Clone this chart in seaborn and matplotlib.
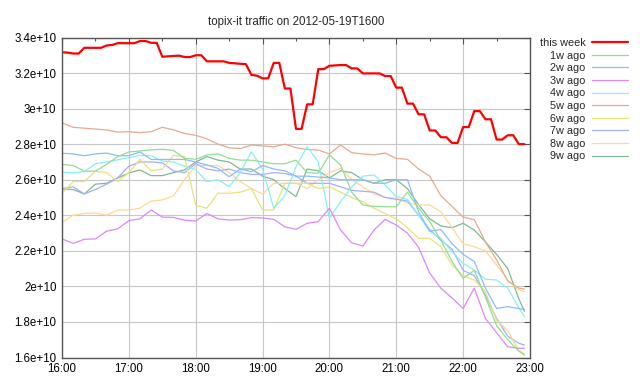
import matplotlib
matplotlib.use("Agg")
import matplotlib.pyplot as plt
from matplotlib.ticker import FuncFormatter, MultipleLocator
import numpy as np
import pandas as pd
import seaborn as sns

# minutes after 16:00
t5 = list(range(0, 420, 5))               # this week, 5 min steps 16:00 .. 22:55
t10 = list(range(0, 420, 10)) + [415]     # older weeks, 10 min steps + 22:55

# values in units of 1e10
this_week = [3.317, 3.315, 3.31, 3.31, 3.342, 3.342, 3.342, 3.342, 3.355, 3.358, 3.368, 3.368,
             3.368, 3.368, 3.38, 3.38, 3.37, 3.37, 3.292, 3.294, 3.296, 3.298, 3.29, 3.29,
             3.30, 3.30, 3.266, 3.266, 3.266, 3.266, 3.257, 3.255, 3.252, 3.25, 3.19, 3.185,
             3.17, 3.17, 3.257, 3.257, 3.113, 3.113, 2.886, 2.886, 3.024, 3.024, 3.222, 3.222,
             3.241, 3.243, 3.245, 3.245, 3.226, 3.226, 3.198, 3.198, 3.198, 3.198, 3.183, 3.183,
             3.118, 3.118, 3.028, 3.028, 2.968, 2.968, 2.877, 2.877, 2.839, 2.839, 2.807, 2.807,
             2.896, 2.896, 2.986, 2.986, 2.94, 2.94, 2.826, 2.826, 2.85, 2.85, 2.80, 2.80]
w1 = [2.686, 2.68, 2.648, 2.648, 2.686, 2.73, 2.756, 2.762, 2.768, 2.771, 2.765, 2.72,
      2.715, 2.739, 2.745, 2.72, 2.71, 2.71, 2.70, 2.69, 2.69, 2.71, 2.64, 2.636,
      2.74, 2.683, 2.53, 2.458, 2.45, 2.448, 2.448, 2.53, 2.44, 2.364, 2.26, 2.14,
      2.045, 2.09, 1.94, 1.78, 1.70, 1.635, 1.614]
w2 = [2.749, 2.745, 2.735, 2.745, 2.75, 2.735, 2.735, 2.756, 2.714, 2.714, 2.714, 2.714,
      2.70, 2.683, 2.664, 2.617, 2.66, 2.645, 2.68, 2.66, 2.65, 2.62, 2.62, 2.615,
      2.61, 2.60, 2.60, 2.60, 2.58, 2.58, 2.60, 2.60, 2.42, 2.31, 2.32, 2.24,
      2.18, 2.14, 1.99, 1.876, 1.886, 1.875, 1.87]
w3 = [2.267, 2.242, 2.265, 2.267, 2.31, 2.324, 2.37, 2.38, 2.43, 2.39, 2.388, 2.372,
      2.368, 2.41, 2.38, 2.373, 2.375, 2.387, 2.385, 2.377, 2.335, 2.321, 2.355, 2.364,
      2.44, 2.317, 2.245, 2.227, 2.317, 2.377, 2.345, 2.30, 2.22, 2.075, 1.99, 1.935,
      1.876, 1.99, 1.82, 1.74, 1.66, 1.652, 1.652]
w4 = [2.642, 2.64, 2.645, 2.69, 2.70, 2.712, 2.724, 2.737, 2.735, 2.705, 2.70, 2.676,
      2.657, 2.59, 2.60, 2.561, 2.64, 2.758, 2.66, 2.44, 2.51, 2.673, 2.786, 2.70,
      2.383, 2.476, 2.56, 2.62, 2.627, 2.57, 2.505, 2.49, 2.40, 2.31, 2.27, 2.195,
      2.13, 2.092, 2.04, 2.036, 1.99, 1.88, 1.83]
w5 = [2.92, 2.895, 2.89, 2.885, 2.88, 2.868, 2.87, 2.865, 2.87, 2.895, 2.88, 2.86,
      2.85, 2.83, 2.80, 2.78, 2.775, 2.795, 2.79, 2.785, 2.80, 2.78, 2.77, 2.767,
      2.745, 2.795, 2.752, 2.745, 2.74, 2.75, 2.72, 2.715, 2.66, 2.62, 2.51, 2.45,
      2.39, 2.375, 2.25, 2.15, 2.03, 1.99, 1.985]
w6 = [2.524, 2.59, 2.59, 2.648, 2.64, 2.59, 2.64, 2.714, 2.65, 2.66, 2.737, 2.73,
      2.457, 2.44, 2.524, 2.524, 2.53, 2.55, 2.43, 2.43, 2.58, 2.58, 2.58, 2.55,
      2.56, 2.53, 2.50, 2.476, 2.44, 2.41, 2.38, 2.33, 2.27, 2.27, 2.223, 2.12,
      2.06, 2.036, 1.97, 1.81, 1.75, 1.64, 1.62]
w7 = [2.55, 2.56, 2.52, 2.545, 2.575, 2.61, 2.676, 2.70, 2.70, 2.695, 2.65, 2.64,
      2.69, 2.66, 2.65, 2.66, 2.64, 2.63, 2.63, 2.64, 2.635, 2.62, 2.58, 2.58,
      2.58, 2.56, 2.54, 2.535, 2.53, 2.50, 2.49, 2.48, 2.40, 2.32, 2.26, 2.21,
      2.09, 2.06, 1.95, 1.82, 1.72, 1.68, 1.67]
w8 = [2.36, 2.40, 2.41, 2.413, 2.40, 2.43, 2.43, 2.44, 2.48, 2.486, 2.51, 2.60,
      2.68, 2.68, 2.68, 2.64, 2.59, 2.55, 2.52, 2.58, 2.58, 2.58, 2.55, 2.60,
      2.64, 2.664, 2.60, 2.56, 2.52, 2.50, 2.495, 2.47, 2.458, 2.458, 2.42, 2.33,
      2.24, 2.223, 2.20, 2.12, 2.036, 1.98, 1.97]
w9 = [2.547, 2.545, 2.52, 2.575, 2.58, 2.61, 2.638, 2.655, 2.623, 2.623, 2.64, 2.655,
      2.70, 2.73, 2.71, 2.70, 2.66, 2.66, 2.62, 2.60, 2.55, 2.505, 2.66, 2.65,
      2.61, 2.65, 2.64, 2.60, 2.58, 2.60, 2.60, 2.55, 2.46, 2.38, 2.34, 2.33,
      2.355, 2.317, 2.25, 2.18, 2.10, 1.93, 1.86]

labels = ['this week', '1w ago', '2w ago', '3w ago', '4w ago',
          '5w ago', '6w ago', '7w ago', '8w ago', '9w ago']
colors = ['#ff0000', '#93dd93', '#8cbcff', '#dc88fa', '#88f0f4',
          '#e6aa8c', '#e8e27e', '#a4adff', '#ffd896', '#82b893']

frames = []
for lab, t, vals in zip(labels, [t5] + [t10] * 9, [this_week, w1, w2, w3, w4, w5, w6, w7, w8, w9]):
    frames.append(pd.DataFrame({'hour': 16 + np.array(t) / 60.0,
                                'traffic': np.array(vals) * 1e10,
                                'series': lab}))
df = pd.concat(frames, ignore_index=True)

sns.set_theme(style='white')
plt.rcParams['font.family'] = ['Liberation Sans', 'DejaVu Sans']
plt.rcParams['xtick.direction'] = 'in'
plt.rcParams['ytick.direction'] = 'in'

fig = plt.figure(figsize=(6.4, 3.84), dpi=100)
ax = fig.add_axes([62 / 640, 1 - 357.5 / 384, 468 / 640, 320 / 384])

# older weeks first so "this week" sits on top
for lab, col in list(zip(labels, colors))[::-1]:
    sub = df[df['series'] == lab]
    sns.lineplot(data=sub, x='hour', y='traffic', color=col, label=lab, ax=ax,
                 lw=1.6 if lab == 'this week' else 0.9, estimator=None)

ax.set_xlim(16, 23)
ax.set_ylim(1.6e10, 3.4e10)
ax.xaxis.set_major_locator(MultipleLocator(1))
ax.xaxis.set_minor_locator(MultipleLocator(0.5))
ax.yaxis.set_major_locator(MultipleLocator(0.2e10))
ax.xaxis.set_major_formatter(FuncFormatter(lambda v, p: '%d:00' % int(round(v))))
ax.yaxis.set_major_formatter(FuncFormatter(lambda v, p: '{:g}'.format(v)))
ax.tick_params(axis='both', which='both', top=True, right=True, colors='#555555',
               labelcolor='black', labelsize=8.3)
ax.tick_params(axis='both', which='major', length=4, width=0.8, pad=4)
ax.tick_params(axis='x', which='minor', length=2.5, width=0.8)
ax.grid(True, which='major', color='#c8c8c8', lw=0.8)
for s in ax.spines.values():
    s.set_color('#555555')
    s.set_linewidth(1.0)
ax.set_xlabel('')
ax.set_ylabel('')
ax.set_title('topix-it traffic on 2012-05-19T1600', fontsize=8.3, pad=9)

handles, labs = ax.get_legend_handles_labels()
order = [labs.index(l) for l in labels]
ax.legend([handles[i] for i in order], labels, loc='upper left',
          bbox_to_anchor=(540 / 640, 1 - 38 / 384), bbox_transform=fig.transFigure,
          frameon=False, markerfirst=False, fontsize=7.8, handlelength=3.3,
          handletextpad=0.6, labelspacing=0.24, borderaxespad=0, borderpad=0)

fig.savefig('out.png', dpi=100)
